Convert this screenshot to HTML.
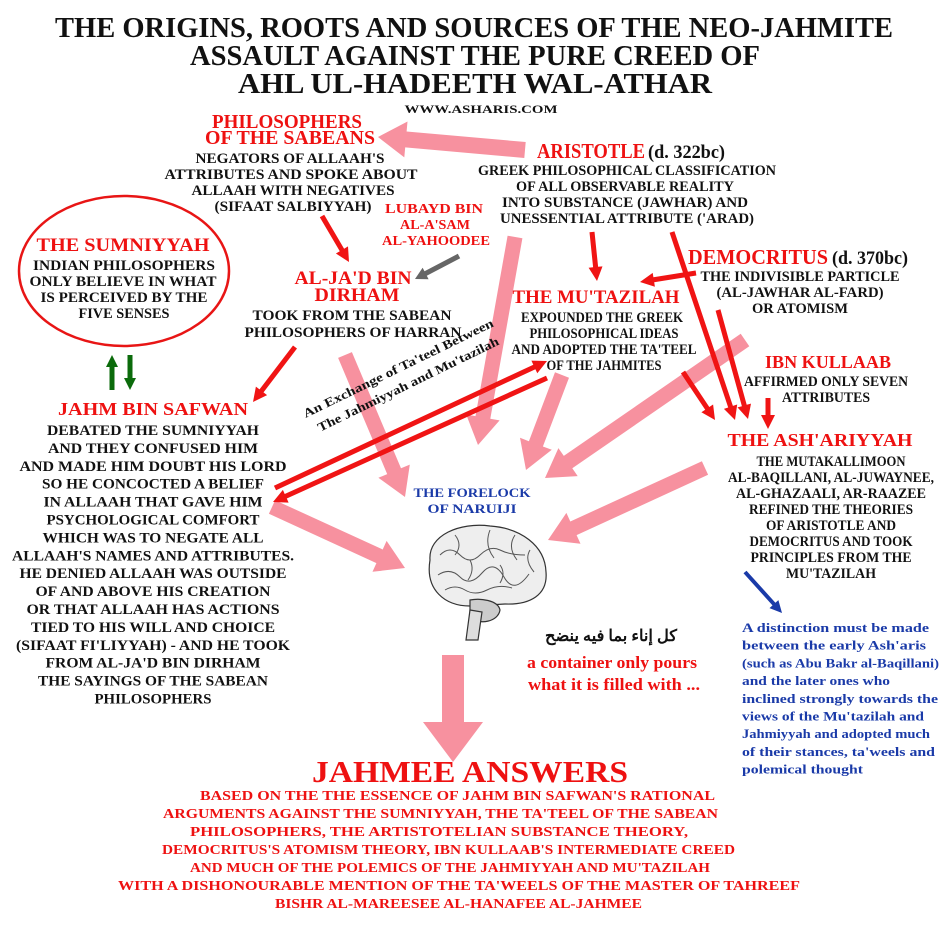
<!DOCTYPE html>
<html><head><meta charset="utf-8">
<style>
html,body{margin:0;padding:0;background:#fff;}
svg{display:block;}
text{font-family:"Liberation Serif","Noto Serif CJK SC",serif;font-weight:bold;}
</style></head>
<body>
<svg id="s" width="950" height="930" viewBox="0 0 950 930" xmlns="http://www.w3.org/2000/svg">
<rect width="950" height="930" fill="#fff"/>
<ellipse cx="124" cy="271" rx="105" ry="75" fill="none" stroke="#e81515" stroke-width="2.5"/>
<g id="arrows"></g>
<g id="brain" stroke="#333" fill="#eee" stroke-width="1.2">
<path d="M430 560 C428 535 460 522 490 526 C520 528 545 545 546 572 C548 595 530 605 505 604 L470 606 C445 606 425 590 430 560 Z"/>
<path d="M470 600 C480 598 498 600 500 610 C498 622 480 625 470 618 Z" fill="#ccc"/>
<path d="M470 610 L466 640 L478 640 L482 612 Z" fill="#ddd"/>
<g fill="none" stroke="#555" stroke-width="1">
<path d="M440 555 q10 -10 20 0 t20 0 t20 -5 t25 5"/>
<path d="M438 575 q12 -8 22 2 t22 -4 t22 4 t25 -3"/>
<path d="M445 590 q10 -6 20 0 t22 0 t25 -2"/>
<path d="M455 535 q8 10 0 20 M490 530 q-6 15 4 28 M515 535 q-8 12 2 25 M530 550 q-6 10 4 22"/>
<path d="M470 560 q5 10 -2 20 M500 565 q6 8 0 18"/>
</g>
</g>
<g id="texts"></g>
</svg>
<script>
var svg=document.getElementById('s');
var NS='http://www.w3.org/2000/svg';
var AG=document.getElementById('arrows');
function arrow(x1,y1,x2,y2,w,hw,hl,col,name){
  var dx=x2-x1,dy=y2-y1,L=Math.sqrt(dx*dx+dy*dy),ux=dx/L,uy=dy/L,px=-uy,py=ux;
  var bx=x2-ux*hl,by=y2-uy*hl;
  var pts=[[x1+px*w/2,y1+py*w/2],[bx+px*w/2,by+py*w/2],[bx+px*hw/2,by+py*hw/2],[x2,y2],[bx-px*hw/2,by-py*hw/2],[bx-px*w/2,by-py*w/2],[x1-px*w/2,y1-py*w/2]];
  var p=document.createElementNS(NS,'polygon');
  p.setAttribute('points',pts.map(function(q){return q[0].toFixed(1)+','+q[1].toFixed(1);}).join(' '));
  p.setAttribute('fill',col);
  
  
  AG.appendChild(p);
}
var PK='#f7919f',RD='#f01414';
arrow(525,150,378,137,16,36,28,PK,'arrow-aristotle-to-sabeans');
arrow(515,237,478,445,15,34,28,PK,'arrow-aristotle-to-forelock');
arrow(345,355,405,497,15,34,28,PK,'arrow-jad-to-brain');
arrow(562,375,526,470,15,34,28,PK,'arrow-mutazilah-to-brain');
arrow(745,340,545,478,15,34,28,PK,'arrow-democritus-to-brain');
arrow(705,468,548,540,15,34,28,PK,'arrow-ashariyyah-to-brain');
arrow(272,507,405,568,15,34,28,PK,'arrow-jahm-to-brain');
arrow(453,655,453,762,22,60,40,PK,'arrow-brain-to-answers');
arrow(322,216,349,262,5,14,14,RD,'arrow-sabeans-to-jad');
arrow(592,232,597,281,5,14,14,RD,'arrow-aristotle-to-mutazilah');
arrow(696,273,640,282,5,14,14,RD,'arrow-democritus-to-mutazilah');
arrow(672,232,735,420,5,14,14,RD,'arrow-aristotle-to-ashariyyah');
arrow(718,310,748,419,5,14,14,RD,'arrow-democritus-to-ashariyyah');
arrow(768,398,768,429,5,14,14,RD,'arrow-kullaab-to-ashariyyah');
arrow(683,372,715,420,5,14,14,RD,'arrow-mutazilah-to-ashariyyah');
arrow(295,347,253,402,5,14,14,RD,'arrow-jad-to-jahm');
arrow(275,488,547,361,5,14,14,RD,'arrow-jahm-to-mutazilah');
arrow(547,378,273,502,5,14,14,RD,'arrow-mutazilah-to-jahm');
arrow(459,256,415,279,5,13,12,'#666','arrow-lubayd-to-jad');
arrow(112,390,112,355,5,12,12,'#0b6b0b','arrow-sumniyyah-up');
arrow(130,355,130,390,5,12,12,'#0b6b0b','arrow-sumniyyah-down');
arrow(745,572,782,613,4,12,12,'#1a3aa8','arrow-ashari-note');

var TG=document.getElementById('texts');
function T(x,y,sz,col,str,len,name,anchor,extra){
  var t=document.createElementNS(NS,'text');
  t.setAttribute('x',x);t.setAttribute('y',y);
  t.setAttribute('font-size',sz);t.setAttribute('fill',col);
  t.setAttribute('text-anchor',anchor||'middle');
  if(len){t.setAttribute('textLength',len);t.setAttribute('lengthAdjust','spacingAndGlyphs');}
  if(extra){for(var k in extra)t.setAttribute(k,extra[k]);}
  t.textContent=str;
  
  
  TG.appendChild(t);return t;
}
var B='#111',R='#ee1111',BL='#1a3aa8',F=14.5;
T(474,37,28,B,'THE ORIGINS, ROOTS AND SOURCES OF THE NEO-JAHMITE',838,'title-line-1');
T(475,65,28,B,'ASSAULT AGAINST THE PURE CREED OF',570,'title-line-2');
T(475,93,28,B,'AHL UL-HADEETH WAL-ATHAR',474,'title-line-3');
T(481,113,12,B,'WWW.ASHARIS.COM',153,'website-url');
// Sabeans
T(287,128,19.5,R,'PHILOSOPHERS',150,'sabeans-title-1');
T(290,144,19.5,R,'OF THE SABEANS',170,'sabeans-title-2');
T(290,163,F,B,"NEGATORS OF ALLAAH'S",189,'sabeans-text');
T(291,179,F,B,'ATTRIBUTES AND SPOKE ABOUT',253,'sabeans-text');
T(293,195,F,B,'ALLAAH WITH NEGATIVES',203,'sabeans-text');
T(293,211,F,B,'(SIFAAT SALBIYYAH)',157,'sabeans-text');
// Lubayd
T(434,213,14,R,'LUBAYD BIN',98,'lubayd-title');
T(435,229,14,R,"AL-A'SAM",70,'lubayd-title');
T(436,245,14,R,'AL-YAHOODEE',108,'lubayd-title');
// Aristotle
T(537,158,21,R,'ARISTOTLE',108,'aristotle-title','start');
T(648,158,19,B,'(d. 322bc)',77,'aristotle-date','start',{'font-weight':'normal'});
T(627,175,F,B,'GREEK PHILOSOPHICAL CLASSIFICATION',298,'aristotle-text');
T(625,191,F,B,'OF ALL OBSERVABLE REALITY',218,'aristotle-text');
T(625,207,F,B,'INTO SUBSTANCE (JAWHAR) AND',246,'aristotle-text');
T(627,223,F,B,"UNESSENTIAL ATTRIBUTE ('ARAD)",254,'aristotle-text');
// Sumniyyah
T(123,251,19,R,'THE SUMNIYYAH',173,'sumniyyah-title');
T(124,270,F,B,'INDIAN PHILOSOPHERS',182,'sumniyyah-text');
T(123,286,F,B,'ONLY BELIEVE IN WHAT',187,'sumniyyah-text');
T(124,302,F,B,'IS PERCEIVED BY THE',167,'sumniyyah-text');
T(124,318,F,B,'FIVE SENSES',91,'sumniyyah-text');
// Al-Jad
T(353,284,19,R,"AL-JA'D BIN",117,'jad-title');
T(357,301,19,R,'DIRHAM',85,'jad-title');
T(352,320,F,B,'TOOK FROM THE SABEAN',199,'jad-text');
T(353,337,F,B,'PHILOSOPHERS OF HARRAN',217,'jad-text');
// Mutazilah
T(596,303,19,R,"THE MU'TAZILAH",167,'mutazilah-title');
T(602,322,F,B,'EXPOUNDED THE GREEK',162,'mutazilah-text');
T(604,338,F,B,'PHILOSOPHICAL IDEAS',149,'mutazilah-text');
T(604,354,F,B,"AND ADOPTED THE TA'TEEL",185,'mutazilah-text');
T(604,370,F,B,'OF THE JAHMITES',115,'mutazilah-text');
// Democritus
T(688,264,21,R,'DEMOCRITUS',140,'democritus-title','start');
T(832,264,19,B,'(d. 370bc)',76,'democritus-date','start',{'font-weight':'normal'});
T(800,281,F,B,'THE INDIVISIBLE PARTICLE',199,'democritus-text');
T(800,297,F,B,'(AL-JAWHAR AL-FARD)',167,'democritus-text');
T(800,313,F,B,'OR ATOMISM',96,'democritus-text');
// Ibn Kullaab
T(828,368,18,R,'IBN KULLAAB',126,'kullaab-title');
T(826,386,F,B,'AFFIRMED ONLY SEVEN',164,'kullaab-text');
T(826,402,F,B,'ATTRIBUTES',88,'kullaab-text');
// Jahm
T(153,415,18,R,'JAHM BIN SAFWAN',190,'jahm-title');
var jl=['DEBATED THE SUMNIYYAH','AND THEY CONFUSED HIM','AND MADE HIM DOUBT HIS LORD','SO HE CONCOCTED A BELIEF','IN ALLAAH THAT GAVE HIM','PSYCHOLOGICAL COMFORT','WHICH WAS TO NEGATE ALL',"ALLAAH'S NAMES AND ATTRIBUTES.",'HE DENIED ALLAAH WAS OUTSIDE','OF AND ABOVE HIS CREATION','OR THAT ALLAAH HAS ACTIONS','TIED TO HIS WILL AND CHOICE',"(SIFAAT FI'LIYYAH) - AND HE TOOK","FROM AL-JA'D BIN DIRHAM",'THE SAYINGS OF THE SABEAN','PHILOSOPHERS'];
var jw=[212,210,267,222,219,213,221,282,267,235,253,244,274,215,230,117];
for(var i=0;i<jl.length;i++){T(153,435+i*17.9,F,B,jl[i],jw[i],'jahm-text');}
// Ash'ariyyah
T(820,446,18,R,"THE ASH'ARIYYAH",185,'ashariyyah-title');
var al=['THE MUTAKALLIMOON','AL-BAQILLANI, AL-JUWAYNEE,','AL-GHAZAALI, AR-RAAZEE','REFINED THE THEORIES','OF ARISTOTLE AND','DEMOCRITUS AND TOOK','PRINCIPLES FROM THE',"MU'TAZILAH"];
var aw=[149,206,190,164,130,163,161,90];
for(var j=0;j<al.length;j++){T(831,466+j*16,F,B,al[j],aw[j],'ashariyyah-text');}
// forelock
T(472,497,13,BL,'THE FORELOCK',117,'forelock-label');
T(472,513,13,BL,'OF NARUIJI',89,'forelock-label');
// rotated
T(0,0,12.5,B,"An Exchange of Ta'teel Between",210,'exchange-label-1','middle',{transform:'translate(400,372) rotate(-26)'});
T(0,0,12.5,B,"The Jahmiyyah and Mu'tazilah",200,'exchange-label-2','middle',{transform:'translate(410,388) rotate(-26)'});
// arabic + proverb
T(611,641,16,B,'كل إناء بما فيه ينضح',132,'arabic-proverb','middle',{'font-family':'"DejaVu Sans",sans-serif','direction':'rtl'});
T(612,668,17,R,'a container only pours',170,'proverb-translation-1','middle',{'font-family':'"Liberation Sans",sans-serif','font-weight':'normal'});
T(614,690,17,R,'what it is filled with ...',172,'proverb-translation-2','middle',{'font-family':'"Liberation Sans",sans-serif','font-weight':'normal'});
// blue note
var bl=['A distinction must be made','between the early Ash\'aris','(such as Abu Bakr al-Baqillani)','and the later ones who','inclined strongly towards the','views of the Mu\'tazilah and','Jahmiyyah and adopted much','of their stances, ta\'weels and','polemical thought'];
var bw=[187,184,197,148,196,182,188,193,121];
for(var k=0;k<bl.length;k++){T(742,632+k*17.7,12.5,BL,bl[k],bw[k],'ashari-note-text','start');}
// answers
T(470,782,31,R,'JAHMEE ANSWERS',316,'answers-title');
var rl=["BASED ON THE THE ESSENCE OF JAHM BIN SAFWAN'S RATIONAL","ARGUMENTS AGAINST THE SUMNIYYAH, THE TA'TEEL OF THE SABEAN","PHILOSOPHERS, THE ARTISTOTELIAN SUBSTANCE THEORY,","DEMOCRITUS'S ATOMISM THEORY, IBN KULLAAB'S INTERMEDIATE CREED","AND MUCH OF THE POLEMICS OF THE JAHMIYYAH AND MU'TAZILAH","WITH A DISHONOURABLE MENTION OF THE TA'WEELS OF THE MASTER OF TAHREEF","BISHR AL-MAREESEE AL-HANAFEE AL-JAHMEE"];
var rx=[[200,715],[163,718],[190,688],[162,735],[190,710],[118,800],[275,642]];
for(var m=0;m<rl.length;m++){T((rx[m][0]+rx[m][1])/2,800+m*18,14,R,rl[m],rx[m][1]-rx[m][0],'answers-text');}
</script>
</body></html>
